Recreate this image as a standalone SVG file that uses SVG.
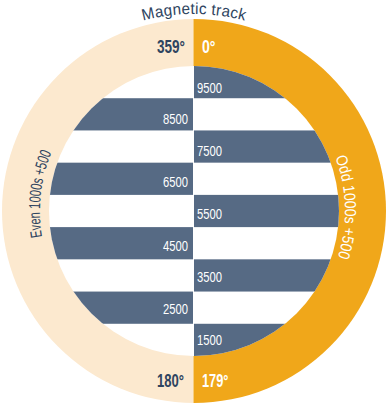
<svg xmlns="http://www.w3.org/2000/svg" width="387" height="407" viewBox="0 0 387 407">
  <defs>
    <clipPath id="inner">
      <circle cx="194" cy="211" r="145"/>
    </clipPath>
    <clipPath id="leftHalf"><rect x="0" y="0" width="193.5" height="407"/></clipPath>
    <clipPath id="rightHalf"><rect x="193.5" y="0" width="194" height="407"/></clipPath>
    <path id="arcTop" d="M 95.5 40.4 A 197 197 0 0 1 292.5 40.4"/>
    <path id="arcLeft" d="M 65.9 296.5 A 154 154 0 0 1 87.6 99.6"/>
    <path id="arcRight" d="M 307.1 110.9 A 151 151 0 0 1 312.2 305"/>
    <style>
      .stripe { fill: #566a84; }
      .num { font-family: "Liberation Sans", Arial, sans-serif; font-size: 15.5px; fill: #ffffff; }
      .deg { font-family: "Liberation Sans", Arial, sans-serif; font-size: 17.5px; font-weight: bold; }
      .dark { fill: #2e4460; }
      .light { fill: #ffffff; }
      .curve { font-family: "Liberation Sans", Arial, sans-serif; font-size: 16px; }
    </style>
  </defs>

  <g id="ring">
    <circle cx="194" cy="211" r="192" fill="#fce9cf" clip-path="url(#leftHalf)"/>
    <circle cx="194" cy="211" r="192" fill="#f0a71a" clip-path="url(#rightHalf)"/>
    <circle cx="194" cy="211" r="145" fill="#ffffff"/>
  </g>

  <g id="stripes" clip-path="url(#inner)">
    <rect class="stripe" x="194" y="66" width="150" height="32.22"/>
    <rect class="stripe" x="40" y="98.22" width="153" height="32.22"/>
    <rect class="stripe" x="194" y="130.44" width="150" height="32.22"/>
    <rect class="stripe" x="40" y="162.67" width="153" height="32.22"/>
    <rect class="stripe" x="194" y="194.89" width="150" height="32.22"/>
    <rect class="stripe" x="40" y="227.11" width="153" height="32.22"/>
    <rect class="stripe" x="194" y="259.33" width="150" height="32.22"/>
    <rect class="stripe" x="40" y="291.56" width="153" height="32.22"/>
    <rect class="stripe" x="194" y="323.78" width="150" height="32.22"/>
  </g>

  <g id="stripe-labels">
    <text class="num" x="197" y="92.5" textLength="25" lengthAdjust="spacingAndGlyphs">9500</text>
    <text class="num" x="163" y="124.1" textLength="25" lengthAdjust="spacingAndGlyphs">8500</text>
    <text class="num" x="197" y="155.7" textLength="25" lengthAdjust="spacingAndGlyphs">7500</text>
    <text class="num" x="163" y="187.3" textLength="25" lengthAdjust="spacingAndGlyphs">6500</text>
    <text class="num" x="197" y="218.9" textLength="25" lengthAdjust="spacingAndGlyphs">5500</text>
    <text class="num" x="163" y="250.5" textLength="25" lengthAdjust="spacingAndGlyphs">4500</text>
    <text class="num" x="197" y="282.1" textLength="25" lengthAdjust="spacingAndGlyphs">3500</text>
    <text class="num" x="163" y="313.7" textLength="25" lengthAdjust="spacingAndGlyphs">2500</text>
    <text class="num" x="197" y="345.3" textLength="25" lengthAdjust="spacingAndGlyphs">1500</text>
  </g>

  <g id="degrees">
    <text class="deg dark" x="157" y="53" textLength="28" lengthAdjust="spacingAndGlyphs">359°</text>
    <text class="deg light" x="202" y="53" textLength="13.5" lengthAdjust="spacingAndGlyphs">0°</text>
    <text class="deg dark" x="157" y="387" textLength="27" lengthAdjust="spacingAndGlyphs">180°</text>
    <text class="deg light" x="202" y="387" textLength="26.5" lengthAdjust="spacingAndGlyphs">179°</text>
  </g>

  <g id="ring-labels">
    <text class="curve dark" letter-spacing="0.3" text-anchor="middle"><textPath href="#arcTop" startOffset="50%" textLength="103" lengthAdjust="spacingAndGlyphs">Magnetic track</textPath></text>
    <text class="curve dark" text-anchor="middle"><textPath href="#arcLeft" startOffset="50%" textLength="86" lengthAdjust="spacingAndGlyphs">Even 1000s +500</textPath></text>
    <text class="curve light" text-anchor="middle"><textPath href="#arcRight" startOffset="50%" textLength="102" lengthAdjust="spacingAndGlyphs">Odd 1000s +500</textPath></text>
  </g>
</svg>
